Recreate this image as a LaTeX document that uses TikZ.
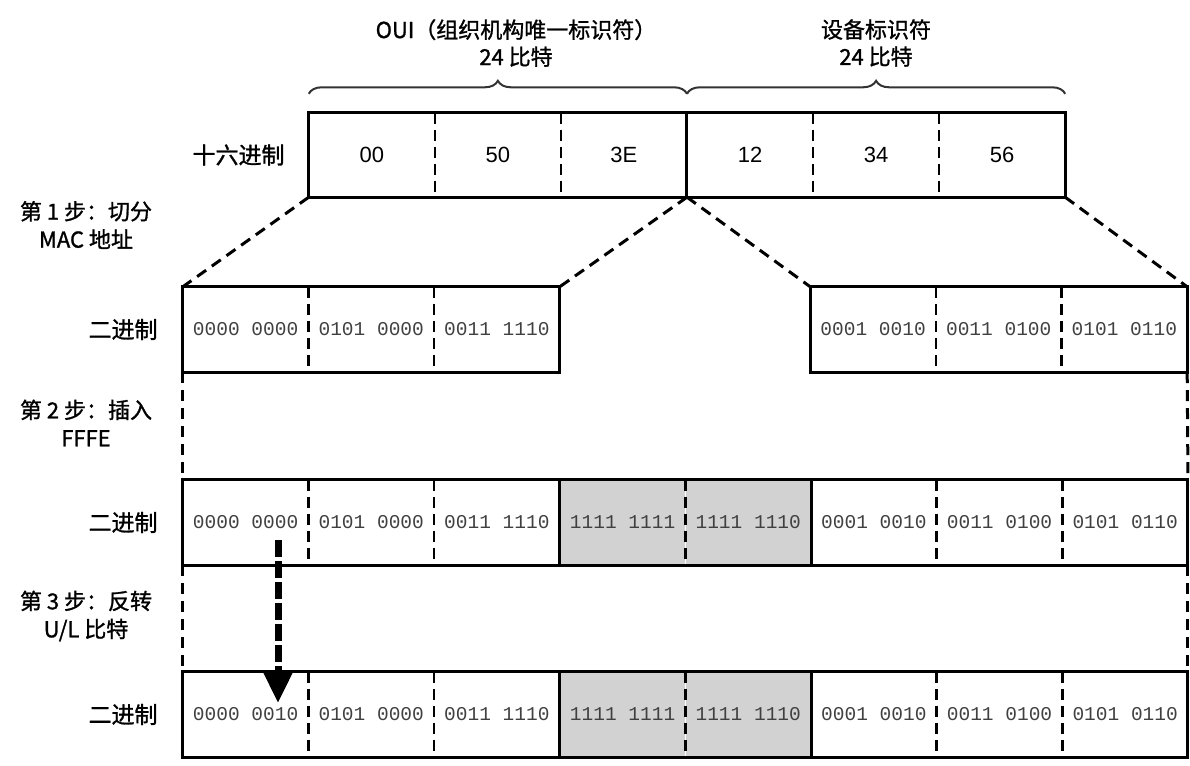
\documentclass[tikz,border=0pt]{standalone}
\usepackage{fontspec}
\setmainfont{Liberation Sans}
\newfontfamily\cjk{Noto Sans CJK SC}[FakeBold=1.2]
\newfontfamily\binfont{Liberation Mono}
\usetikzlibrary{positioning,arrows.meta,decorations.pathreplacing}
\begin{document}
\begin{tikzpicture}[x=1pt,y=1pt,inner sep=0pt,
  hexcell/.style={minimum width=125.67pt,minimum height=84pt,font=\fontsize{22}{26}\selectfont},
  bincell/.style={minimum width=125.25pt,minimum height=85pt,text=black!75,font=\binfont\fontsize{19.5}{22}\selectfont},
  ffcell/.style={bincell,fill=gray!35},
  frame/.style={line width=3pt},
  divider/.style={line width=2.6pt,dash pattern=on 11pt off 6pt},
  link/.style={line width=3pt,dash pattern=on 11pt off 7pt},
  bracket/.style={line width=2pt,black!80,decorate,decoration={brace,amplitude=13pt}},
  flip/.style={line width=7pt,dash pattern=on 17pt off 4pt,-{Triangle[length=30pt,width=27pt]}},
  rowlabel/.style={font=\cjk\fontsize{23}{27}\selectfont},
  toplabel/.style={align=center,font=\cjk\fontsize{22}{27}\selectfont},
  steplabel/.style={align=center,font=\cjk\fontsize{22}{28}\selectfont}]
 \useasboundingbox (0,0) rectangle (1190,765);
 \node[hexcell] (h1) at (371.8,610) {00};
 \node[hexcell,right=0pt of h1] (h2) {50};
 \node[hexcell,right=0pt of h2] (h3) {3E};
 \node[hexcell,right=0pt of h3] (h4) {12};
 \node[hexcell,right=0pt of h4] (h5) {34};
 \node[hexcell,right=0pt of h5] (h6) {56};
 \node[rowlabel,left=24pt of h1] (hexlbl) {十六进制};
 \draw[frame] (h1.north west) rectangle (h6.south east);
 \draw[frame] (h3.north east) -- (h3.south east);
 \draw[divider] (h1.north east) -- (h1.south east);
 \draw[divider] (h2.north east) -- (h2.south east);
 \draw[divider] (h4.north east) -- (h4.south east);
 \draw[divider] (h5.north east) -- (h5.south east);
 \draw[bracket] ([yshift=19pt]h1.north west) -- ([yshift=19pt]h3.north east);
 \draw[bracket] ([yshift=19pt]h4.north west) -- ([yshift=19pt]h6.north east);
 \node[toplabel] (ouilbl) at (516,722) {OUI（组织机构唯一标识符）\\24 比特};
 \node[toplabel] (devlbl) at (876,722) {设备标识符\\24 比特};
 \node[bincell] (b1a) at (245.6,435.5) {0000 0000};
 \node[bincell,right=0pt of b1a] (b1b) {0101 0000};
 \node[bincell,right=0pt of b1b] (b1c) {0011 1110};
 \node[bincell,right=250.5pt of b1c] (d1a) {0001 0010};
 \node[bincell,right=0pt of d1a] (d1b) {0011 0100};
 \node[bincell,right=0pt of d1b] (d1c) {0101 0110};
 \node[rowlabel,left=25pt of b1a] (binlbl1) {二进制};
 \draw[frame] (b1a.north west) rectangle (b1c.south east);
 \draw[frame] (d1a.north west) rectangle (d1c.south east);
 \draw[divider] (b1a.north east) -- (b1a.south east);
 \draw[divider] (b1b.north east) -- (b1b.south east);
 \draw[divider] (d1a.north east) -- (d1a.south east);
 \draw[divider] (d1b.north east) -- (d1b.south east);
 \node[bincell] (b2a) at (245.6,242.5) {0000 0000};
 \node[bincell,right=0pt of b2a] (b2b) {0101 0000};
 \node[bincell,right=0pt of b2b] (b2c) {0011 1110};
 \node[ffcell,right=0pt of b2c] (b2d) {1111 1111};
 \node[ffcell,right=0pt of b2d] (b2e) {1111 1110};
 \node[bincell,right=0pt of b2e] (b2f) {0001 0010};
 \node[bincell,right=0pt of b2f] (b2g) {0011 0100};
 \node[bincell,right=0pt of b2g] (b2h) {0101 0110};
 \node[rowlabel,left=25pt of b2a] (binlbl2) {二进制};
 \draw[frame] (b2a.north west) rectangle (b2h.south east);
 \draw[frame] (b2c.north east) -- (b2c.south east);
 \draw[frame] (b2e.north east) -- (b2e.south east);
 \draw[divider] (b2a.north east) -- (b2a.south east);
 \draw[divider] (b2b.north east) -- (b2b.south east);
 \draw[divider] (b2d.north east) -- (b2d.south east);
 \draw[divider] (b2f.north east) -- (b2f.south east);
 \draw[divider] (b2g.north east) -- (b2g.south east);
 \node[bincell] (b3a) at (245.6,50.5) {0000 0010};
 \node[bincell,right=0pt of b3a] (b3b) {0101 0000};
 \node[bincell,right=0pt of b3b] (b3c) {0011 1110};
 \node[ffcell,right=0pt of b3c] (b3d) {1111 1111};
 \node[ffcell,right=0pt of b3d] (b3e) {1111 1110};
 \node[bincell,right=0pt of b3e] (b3f) {0001 0010};
 \node[bincell,right=0pt of b3f] (b3g) {0011 0100};
 \node[bincell,right=0pt of b3g] (b3h) {0101 0110};
 \node[rowlabel,left=25pt of b3a] (binlbl3) {二进制};
 \draw[frame] (b3a.north west) rectangle (b3h.south east);
 \draw[frame] (b3c.north east) -- (b3c.south east);
 \draw[frame] (b3e.north east) -- (b3e.south east);
 \draw[divider] (b3a.north east) -- (b3a.south east);
 \draw[divider] (b3b.north east) -- (b3b.south east);
 \draw[divider] (b3d.north east) -- (b3d.south east);
 \draw[divider] (b3f.north east) -- (b3f.south east);
 \draw[divider] (b3g.north east) -- (b3g.south east);
 \draw[link] (h1.south west) -- (b1a.north west);
 \draw[link] (h3.south east) -- (b1c.north east);
 \draw[link] (h4.south west) -- (d1a.north west);
 \draw[link] (h6.south east) -- (d1c.north east);
 \draw[link] (b1a.south west) -- (b2a.north west);
 \draw[link] (d1c.south east) -- (b2h.north east);
 \draw[link] (b2a.south west) -- (b3a.north west);
 \draw[link] (b2h.south east) -- (b3h.north east);
 \draw[flip] ([xshift=32.4pt,yshift=-17.5pt]b2a.center) -- ([xshift=32.4pt,yshift=11.5pt]b3a.center);
 \node[steplabel] (step1) at (86,540) {第 1 步：切分\\MAC 地址};
 \node[steplabel] (step2) at (86,342) {第 2 步：插入\\FFFE};
 \node[steplabel] (step3) at (86,149) {第 3 步：反转\\U/L 比特};
\end{tikzpicture}
\end{document}
